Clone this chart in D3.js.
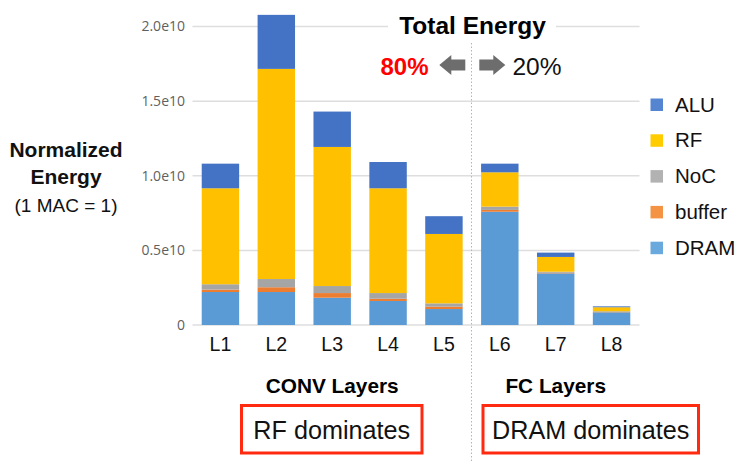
<!DOCTYPE html>
<html>
<head>
<meta charset="utf-8">
<script src="https://cdn.jsdelivr.net/npm/d3@7"></script>
<style>
  body { margin: 0; background: #fff; }
  svg { display: block; font-family: "Liberation Sans", Arial, sans-serif; }
</style>
</head>
<body>
<svg id="chart" width="747" height="461"></svg>
<script>
// layers and energy components (units of 1e10, 1 MAC = 1)
var layers = ['L1', 'L2', 'L3', 'L4', 'L5', 'L6', 'L7', 'L8'];
var components = ['DRAM', 'buffer', 'NoC', 'RF', 'ALU'];
var dram   = [0.221, 0.221, 0.183, 0.161, 0.107, 0.759, 0.346, 0.085];
var buffer = [0.016, 0.032, 0.031, 0.015, 0.016, 0.012, 0.004, 0.002];
var noc    = [0.036, 0.055, 0.047, 0.038, 0.022, 0.022, 0.007, 0.005];
var rf     = [0.643, 1.408, 0.932, 0.702, 0.465, 0.230, 0.099, 0.027];
var alu    = [0.165, 0.362, 0.237, 0.176, 0.119, 0.058, 0.029, 0.006];
var yTicks = [0, 0.5e10, 1.0e10, 1.5e10, 2.0e10];
var yTickLabels = ['0', '0.5e10', '1.0e10', '1.5e10', '2.0e10'];
var legendOrder = ['ALU', 'RF', 'NoC', 'buffer', 'DRAM'];

var colors = {ALU: '#4472c4', RF: '#ffc000', NoC: '#a5a5a5', buffer: '#ed7d31', DRAM: '#5b9bd5'};
var legendColors = {ALU: '#5585d0', RF: '#ffcc00', NoC: '#b2b2b2', buffer: '#f39343', DRAM: '#6aa9dd'};

var rows = layers.map((l, i) => ({
    layer: l,
    DRAM: dram[i] * 1e10,
    buffer: buffer[i] * 1e10,
    NoC: noc[i] * 1e10,
    RF: rf[i] * 1e10,
    ALU: alu[i] * 1e10
}));

var svg = d3.select('#chart');

var x = d3.scaleBand()
    .domain(layers)
    .range([192.5, 639.5])
    .paddingInner(0.33)
    .paddingOuter(0.165);

var y = d3.scaleLinear()
    .domain([0, 2e10])
    .range([325, 26.5]);

// grid
svg.append('g')
    .selectAll('line')
    .data(yTicks)
    .join('line')
    .attr('x1', 192.5)
    .attr('x2', 639.5)
    .attr('y1', d => y(d))
    .attr('y2', d => y(d))
    .attr('stroke', '#dedede')
    .attr('stroke-width', 1.5);

// y axis labels
var yAxis = svg.append('g')
    .attr('transform', 'translate(192,0)')
    .call(d3.axisLeft(y).tickValues(yTicks).tickSize(0).tickPadding(7)
        .tickFormat((d, i) => yTickLabels[i]));
yAxis.select('.domain').remove();
yAxis.selectAll('text')
    .attr('font-family', '"Open Sans", sans-serif')
    .attr('font-size', 14)
    .attr('fill', '#5f5f5f');

// stacked bars
var stack = d3.stack().keys(components)(rows);

svg.append('g')
    .selectAll('g')
    .data(stack)
    .join('g')
    .attr('fill', d => colors[d.key])
    .selectAll('rect')
    .data(d => d)
    .join('rect')
    .attr('x', d => x(d.data.layer))
    .attr('width', x.bandwidth())
    .attr('y', d => y(d[1]))
    .attr('height', d => y(d[0]) - y(d[1]));

// x axis labels
var xAxis = svg.append('g')
    .attr('transform', 'translate(0,325)')
    .call(d3.axisBottom(x).tickSize(0).tickPadding(12));
xAxis.select('.domain').remove();
xAxis.selectAll('text')
    .attr('font-family', '"Liberation Sans", Arial, sans-serif')
    .attr('font-size', 19.5)
    .attr('fill', '#111');

// divider between CONV and FC
svg.append('line')
    .attr('x1', 471.5).attr('x2', 471.5)
    .attr('y1', 43).attr('y2', 461)
    .attr('stroke', '#b5b5b5')
    .attr('stroke-width', 1)
    .attr('stroke-dasharray', '1.5,2');

// title
svg.append('rect')
    .attr('x', 388).attr('y', 10).attr('width', 168).attr('height', 28)
    .attr('fill', '#fff');
svg.append('text')
    .attr('x', 472.5).attr('y', 33.5)
    .attr('text-anchor', 'middle')
    .attr('font-weight', 'bold')
    .attr('font-size', 24.5)
    .text('Total Energy');

svg.append('text')
    .attr('x', 404.5).attr('y', 75)
    .attr('text-anchor', 'middle')
    .attr('font-weight', 'bold')
    .attr('font-size', 24)
    .attr('fill', '#ff0000')
    .text('80%');
svg.append('text')
    .attr('x', 537).attr('y', 75)
    .attr('text-anchor', 'middle')
    .attr('font-size', 24.5)
    .attr('fill', '#111')
    .text('20%');

// arrows
function arrow(x0, dir) {
    // dir = -1 points left, 1 points right
    var w = 26, h = 20, head = 12, shaft = 11;
    var cy = 65;
    var pts;
    if (dir > 0) {
        pts = [[x0, cy - shaft / 2], [x0 + w - head, cy - shaft / 2], [x0 + w - head, cy - h / 2],
               [x0 + w, cy], [x0 + w - head, cy + h / 2], [x0 + w - head, cy + shaft / 2], [x0, cy + shaft / 2]];
    } else {
        pts = [[x0 + w, cy - shaft / 2], [x0 + head, cy - shaft / 2], [x0 + head, cy - h / 2],
               [x0, cy], [x0 + head, cy + h / 2], [x0 + head, cy + shaft / 2], [x0 + w, cy + shaft / 2]];
    }
    svg.append('polygon')
        .attr('points', pts.map(p => p.join(',')).join(' '))
        .attr('fill', '#6d6d6d');
}
arrow(439.3, -1);
arrow(479.3, 1);

// y axis title
var yt = svg.append('text')
    .attr('text-anchor', 'middle')
    .attr('fill', '#111');
yt.append('tspan').attr('x', 66).attr('y', 157)
    .attr('font-weight', 'bold').attr('font-size', 21).text('Normalized');
yt.append('tspan').attr('x', 66).attr('y', 183.5)
    .attr('font-weight', 'bold').attr('font-size', 21).text('Energy');
yt.append('tspan').attr('x', 66).attr('y', 211.5)
    .attr('font-size', 19).text('(1 MAC = 1)');

// legend
var legend = svg.append('g')
    .selectAll('g')
    .data(legendOrder)
    .join('g')
    .attr('transform', (d, i) => 'translate(650.5,' + (98.5 + i * 35.8) + ')');
legend.append('rect')
    .attr('width', 12.5).attr('height', 12.5)
    .attr('fill', d => legendColors[d]);
legend.append('text')
    .attr('x', 24.5).attr('y', 13)
    .attr('font-size', 20.5)
    .attr('fill', '#111')
    .text(d => d);

// group labels
svg.append('text')
    .attr('x', x('L3') + x.bandwidth() / 2).attr('y', 393)
    .attr('text-anchor', 'middle')
    .attr('font-weight', 'bold').attr('font-size', 20.8)
    .text('CONV Layers');
svg.append('text')
    .attr('x', x('L7') + x.bandwidth() / 2).attr('y', 393)
    .attr('text-anchor', 'middle')
    .attr('font-weight', 'bold').attr('font-size', 20.8)
    .text('FC Layers');

// callout boxes
var boxes = [
    {label: 'RF dominates', x0: 241.5, x1: 422},
    {label: 'DRAM dominates', x0: 483, x1: 698.5}
];
boxes.forEach(b => {
    svg.append('rect')
        .attr('x', b.x0).attr('y', 405.5)
        .attr('width', b.x1 - b.x0).attr('height', 47.5)
        .attr('fill', 'none')
        .attr('stroke', '#ff2a10')
        .attr('stroke-width', 3);
    svg.append('text')
        .attr('x', (b.x0 + b.x1) / 2).attr('y', 439)
        .attr('text-anchor', 'middle')
        .attr('font-size', 25.2)
        .attr('fill', '#111')
        .text(b.label);
});
</script>
</body>
</html>
